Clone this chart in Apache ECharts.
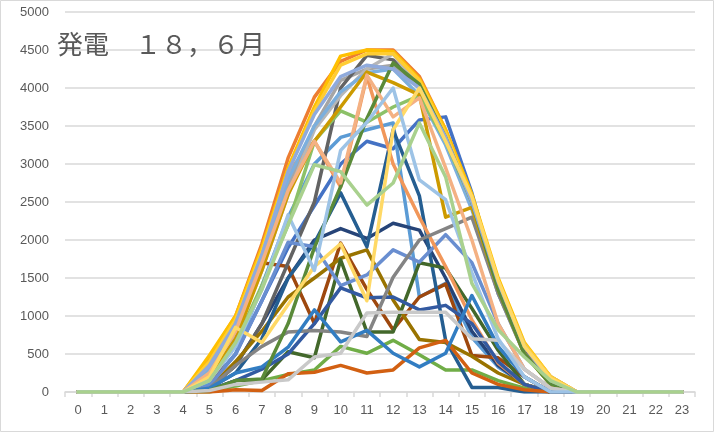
<!DOCTYPE html>
<html>
<head>
<meta charset="utf-8">
<script src="https://cdn.jsdelivr.net/npm/echarts@6/dist/echarts.min.js"></script>
<style>
html,body{margin:0;padding:0;background:#fff;}
#chart{width:714px;height:432px;}
</style>
</head>
<body>
<div id="chart"></div>
<script>
const hours = ['0','1','2','3','4','5','6','7','8','9','10','11','12','13','14','15','16','17','18','19','20','21','22','23'];
const titleText = '発電　１８，６月';

const d01 = [0,0,0,0,0,100,500,1200,1900,2450,3000,3300,3200,3580,3620,2620,1390,510,100,0,0,0,0,0];
const d02 = [0,0,0,0,0,450,1000,1950,3080,3880,4350,4500,4500,4150,3450,2580,1420,620,200,0,0,0,0,0];
const d03 = [0,0,0,0,0,300,800,1700,2700,3500,4100,4250,4300,4000,3300,2450,1300,550,150,0,0,0,0,0];
const d04 = [0,0,0,0,0,480,1000,1900,2950,3750,4420,4500,4480,4120,3450,2600,1500,650,200,0,0,0,0,0];
const d05 = [0,0,0,0,0,100,500,1400,2300,3000,3350,3450,3540,1250,1430,720,330,100,0,0,0,0,0,0];
const d06 = [0,0,0,0,0,0,80,150,230,290,600,510,680,490,290,290,150,50,0,0,0,0,0,0];
const d07 = [0,0,0,0,0,50,350,900,1500,2000,2150,2020,2220,2130,1500,800,350,100,0,0,0,0,0,0];
const d08 = [0,0,0,0,0,50,700,1700,1650,900,1960,1350,820,1250,1420,480,450,200,0,0,0,0,0,0];
const d09 = [0,0,0,0,0,50,350,900,1700,2500,4000,4430,4370,4000,3300,2500,1400,550,150,0,0,0,0,0];
const d10 = [0,0,0,0,0,50,400,800,1250,1500,1760,1870,1210,690,650,470,250,100,0,0,0,0,0,0];
const d11 = [0,0,0,0,0,50,250,700,1500,1960,2620,1910,3450,2580,680,60,60,0,0,0,0,0,0,0];
const d12 = [0,0,0,0,0,20,150,160,530,450,1740,790,790,1700,1630,1100,550,100,0,0,0,0,0,0];
const d13 = [0,0,0,0,0,80,500,1200,1970,1910,1400,1540,1870,1710,2070,1700,900,300,50,0,0,0,0,0];
const d14 = [0,0,0,0,0,200,700,1700,2900,3300,2700,4150,3000,2300,1650,950,380,100,0,0,0,0,0,0];
const d15 = [0,0,0,0,0,250,750,1600,2600,3450,3900,4250,4450,4000,3400,2500,1400,600,200,0,0,0,0,0];
const d16 = [0,0,0,0,0,400,950,1850,2900,3700,4300,4450,4450,4100,3400,2550,1450,630,200,0,0,0,0,0];
const d17 = [0,0,0,0,0,300,900,1800,2800,3500,3950,4200,4250,3900,3250,2400,1300,500,120,0,0,0,0,0];
const d18 = [0,0,0,0,0,200,650,1400,2200,3300,3700,3550,3750,3900,3300,2500,1400,500,100,0,0,0,0,0];
const d19 = [0,0,0,0,0,30,150,300,500,900,1370,1240,1250,1080,1140,900,400,100,0,0,0,0,0,0];
const d20 = [0,0,0,0,0,0,30,20,240,260,350,250,290,580,680,250,100,30,0,0,0,0,0,0];
const d21 = [0,0,0,0,0,50,350,600,790,810,790,730,1510,2000,2150,2300,1300,500,150,0,0,0,0,0];
const d22 = [0,0,0,0,0,200,700,1600,2600,3300,3750,4210,4070,3910,2300,2430,1350,500,100,0,0,0,0,0];
const d23 = [0,0,0,0,0,50,250,330,590,1080,660,810,510,330,510,1270,600,200,0,0,0,0,0,0];
const d24 = [0,0,0,0,0,20,150,170,900,1900,2700,3600,4330,4050,3350,2500,1350,500,100,0,0,0,0,0];
const d25 = [0,0,0,0,0,350,900,1800,2900,3650,4150,4300,4250,4000,3350,2500,1450,600,150,0,0,0,0,0];
const d26 = [0,0,0,0,0,250,800,1700,2650,3300,2750,4170,3620,3870,2950,2000,900,300,50,0,0,0,0,0];
const d27 = [0,0,0,0,0,20,100,130,160,460,510,1040,1050,1050,1050,700,680,300,50,0,0,0,0,0];
const d28 = [0,0,0,0,0,200,850,650,1150,1650,1950,1200,3450,4000,3300,2570,1470,600,180,0,0,0,0,0];
const d29 = [0,0,0,0,0,150,600,1350,2330,1600,3180,3550,4000,2790,2530,1570,700,200,0,0,0,0,0,0];
const d30 = [0,0,0,0,0,150,650,1350,2200,2990,2900,2460,2750,3540,2830,1430,820,460,150,0,0,0,0,0];

const days = [d01,d02,d03,d04,d05,d06,d07,d08,d09,d10,d11,d12,d13,d14,d15,d16,d17,d18,d19,d20,d21,d22,d23,d24,d25,d26,d27,d28,d29,d30];

// Office palette: accent colours and their shade/tint variants (lumMod, lumOff)
const accents = ['#4472C4','#ED7D31','#A5A5A5','#FFC000','#5B9BD5','#70AD47'];
const variants = [[1,0],[0.6,0],[0.8,0.2],[0.8,0],[0.6,0.4],[0.5,0]];

function hexToRgb(h){return [parseInt(h.substr(1,2),16)/255,parseInt(h.substr(3,2),16)/255,parseInt(h.substr(5,2),16)/255];}
function rgbToHsl(r,g,b){const mx=Math.max(r,g,b),mn=Math.min(r,g,b);let h=0,s=0;const l=(mx+mn)/2;const d=mx-mn;
  if(d>0){s=d/(1-Math.abs(2*l-1));if(mx===r)h=((g-b)/d)%6;else if(mx===g)h=(b-r)/d+2;else h=(r-g)/d+4;h*=60;if(h<0)h+=360;}
  return [h,s,l];}
function hslToHex(h,s,l){const c=(1-Math.abs(2*l-1))*s;const x=c*(1-Math.abs((h/60)%2-1));const m=l-c/2;let r=0,g=0,b=0;
  if(h<60){r=c;g=x;}else if(h<120){r=x;g=c;}else if(h<180){g=c;b=x;}else if(h<240){g=x;b=c;}else if(h<300){r=x;b=c;}else{r=c;b=x;}
  const t=v=>{const n=Math.round((v+m)*255);return ('0'+Math.max(0,Math.min(255,n)).toString(16)).slice(-2);};
  return '#'+t(r)+t(g)+t(b);}
function shade(hex,mod,off){const [r,g,b]=hexToRgb(hex);const [h,s,l]=rgbToHsl(r,g,b);return hslToHex(h,s,Math.min(1,l*mod+off));}
const colors = days.map((d,i)=>{const v=variants[Math.floor(i/6)];return shade(accents[i%6],v[0],v[1]);});

const chart = echarts.init(document.getElementById('chart'));
chart.setOption({
  backgroundColor:'#ffffff',
  animation:false,
  color: colors,
  title:{text:titleText,left:52,top:26,textStyle:{fontFamily:'Noto Sans CJK JP',fontSize:26,fontWeight:'normal',color:'#595959'}},
  graphic:[{type:'rect',shape:{x:0.5,y:0.5,width:713,height:431},style:{fill:'none',stroke:'#D9D9D9',lineWidth:1},silent:true,z:-1}],
  grid:{left:65,right:19,top:12,bottom:40,containLabel:false},
  xAxis:{type:'category',data:hours,boundaryGap:true,
    axisLine:{lineStyle:{color:'#D9D9D9',width:1.5}},
    axisTick:{show:true,alignWithLabel:false,length:5,lineStyle:{color:'#D9D9D9',width:1.5}},
    axisLabel:{color:'#595959',fontSize:13,margin:12,fontFamily:'Liberation Sans'},
    splitLine:{show:false}},
  yAxis:{type:'value',min:0,max:5000,interval:500,
    axisLine:{show:false},axisTick:{show:false},
    axisLabel:{color:'#595959',fontSize:13,margin:16,fontFamily:'Liberation Sans',formatter:v=>String(v)},
    splitLine:{lineStyle:{color:'#D9D9D9',width:1.5}}},
  series: days.map((d,i)=>({name:String(i+1),type:'line',data:d,symbol:'none',smooth:false,
    lineStyle:{width:3.5,cap:'round',join:'round'},emphasis:{disabled:true}}))
});
</script>
</body>
</html>
